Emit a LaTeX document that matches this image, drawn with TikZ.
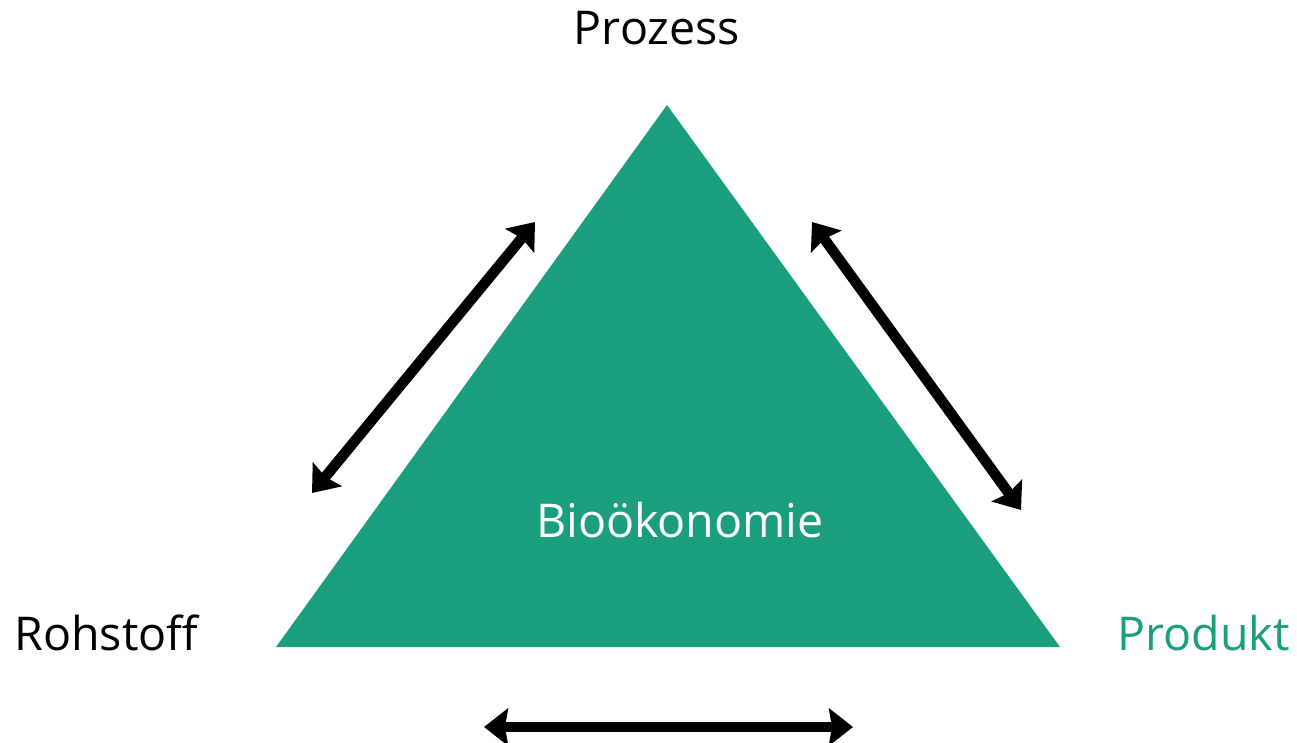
\documentclass[tikz,border=0pt]{standalone}
\usepackage{fontspec}
\setmainfont{Open Sans}
\usepackage{xcolor}
\usetikzlibrary{arrows.meta, positioning, calc}
\definecolor{bioGreen}{RGB}{26,158,126}

\begin{document}
\begin{tikzpicture}[x=0.02cm, y=-0.02cm,
    label text/.style={font=\fontsize{26.5}{30}\selectfont, inner sep=0pt},
    double arrow/.style={{Stealth[length=0.48cm, width=0.74cm, inset=0.06cm]}-{Stealth[length=0.48cm, width=0.74cm, inset=0.06cm]}, line width=0.21cm}]
            \useasboundingbox (0,0) rectangle (1297,743);

            % Dreieck
            \fill[bioGreen] (667,105) -- (1060,647) -- (276,647) -- cycle;
            \node[label text, white] (bio) at (680,520) {Bioökonomie};

            % Ecken
            \node[label text] (prozess) at (657,28) {Prozess};
            \node[label text, anchor=west] (rohstoff) at (14,633) {Rohstoff};
            \node[label text, bioGreen, anchor=east] (produkt) at (1290,633) {Produkt};

            % Pfeile
            \coordinate (l1) at (312,493);
            \coordinate (l2) at (535,222);
            \coordinate (r1) at (812,222);
            \coordinate (r2) at (1021,510);
            \coordinate (b1) at (484,727);
            \coordinate (b2) at (853,727);
            \draw[double arrow] (l1) -- (l2);
            \draw[double arrow] (r1) -- (r2);
            \draw[double arrow] (b1) -- (b2);
        \end{tikzpicture}
\end{document}
